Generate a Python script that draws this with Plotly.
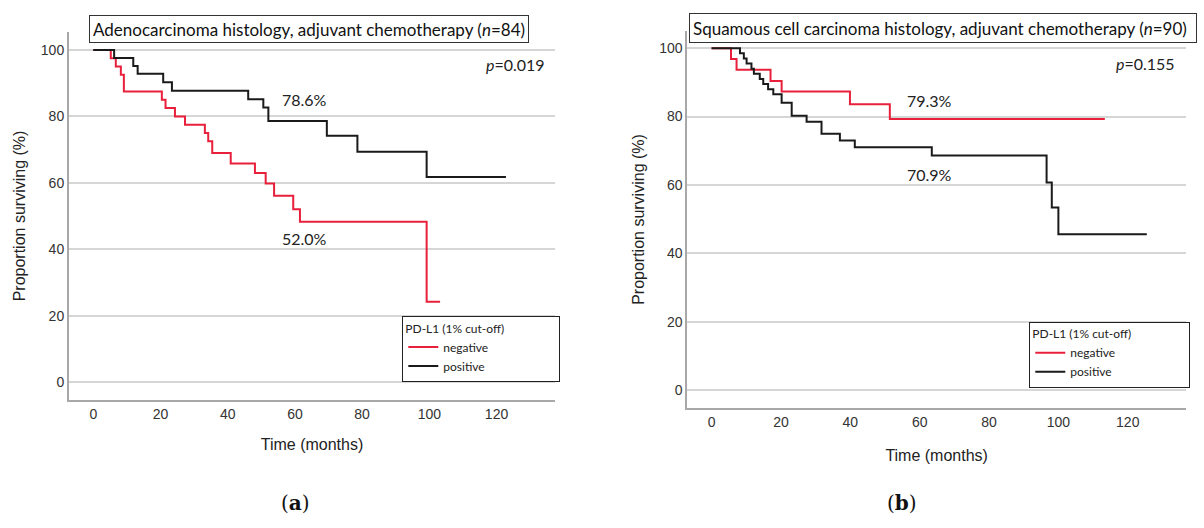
import plotly.graph_objects as go

# ---------------- data ----------------
# Panel (a): Adenocarcinoma histology
a_neg_time = [0, 5.2, 6.7, 8.2, 9.1, 20.4, 21.5, 24.3, 27.3, 33.2, 34.2, 35.4, 40.9, 48.1, 51.3, 53.8, 59.5, 61.5, 99.2, 103.2]
a_neg_surv = [100, 97.5, 95.0, 92.5, 87.5, 85.0, 82.5, 80.0, 77.5, 75.0, 72.5, 69.0, 65.8, 63.0, 59.8, 56.1, 52.1, 48.3, 24.2, 24.2]
a_pos_time = [0, 6.2, 11.9, 13.2, 20.8, 23.4, 46.1, 50.6, 52.1, 69.5, 78.6, 99.2, 122.8]
a_pos_surv = [100, 97.6, 95.2, 92.8, 90.3, 87.7, 85.2, 82.7, 78.6, 74.2, 69.4, 61.8, 61.8]

# Panel (b): Squamous cell carcinoma histology
b_neg_time = [0, 5.6, 7.2, 17.0, 20.2, 39.9, 51.4, 113.4]
b_neg_surv = [100, 96.8, 93.7, 90.4, 87.3, 83.6, 79.3, 79.3]
b_pos_time = [0, 8.2, 9.3, 10.1, 11.5, 12.2, 13.9, 14.9, 16.3, 17.8, 20.2, 23.1, 27.4, 31.7, 37.0, 41.3, 63.5, 96.6, 98.1, 100.0, 125.5]
b_pos_surv = [100, 98.5, 97.0, 95.5, 94.0, 92.5, 91.0, 89.5, 88.0, 86.5, 84.0, 80.2, 78.5, 75.0, 73.0, 71.0, 68.6, 60.7, 53.4, 45.6, 45.6]

x_ticks = [0, 20, 40, 60, 80, 100, 120]
y_ticks = [0, 20, 40, 60, 80, 100]
group_names = ["negative", "positive"]
titles = ["Adenocarcinoma histology, adjuvant chemotherapy (<i>n</i>=84)",
          "Squamous cell carcinoma histology, adjuvant chemotherapy (<i>n</i>=90)"]
p_values = ["<i>p</i>=0.019", "<i>p</i>=0.155"]
rate_labels_a = ["78.6%", "52.0%"]
rate_labels_b = ["79.3%", "70.9%"]

RED = "#e8203c"
BLACK = "#1a1a1a"
W, H = 1204, 528
TXT = "Lato"
AX = "Liberation Sans"

fig = go.Figure()
fig.add_trace(go.Scatter(x=a_neg_time, y=a_neg_surv, mode="lines", line=dict(shape="hv", color=RED, width=2),
                         name=group_names[0], xaxis="x", yaxis="y", legend="legend"))
fig.add_trace(go.Scatter(x=a_pos_time, y=a_pos_surv, mode="lines", line=dict(shape="hv", color=BLACK, width=2),
                         name=group_names[1], xaxis="x", yaxis="y", legend="legend"))
fig.add_trace(go.Scatter(x=b_neg_time, y=b_neg_surv, mode="lines", line=dict(shape="hv", color=RED, width=2),
                         name=group_names[0], xaxis="x2", yaxis="y2", legend="legend2"))
fig.add_trace(go.Scatter(x=b_pos_time, y=b_pos_surv, mode="lines", line=dict(shape="hv", color=BLACK, width=2),
                         name=group_names[1], xaxis="x2", yaxis="y2", legend="legend2"))


def xax(domain, rng, anchor, standoff):
    return dict(domain=domain, range=rng, anchor=anchor, tickvals=x_ticks, showgrid=False, zeroline=False,
                showline=True, linecolor="#a8a8a8", linewidth=2, ticks="",
                tickfont=dict(family=AX, size=14, color="#333"),
                title=dict(text="Time (months)", font=dict(family=AX, size=16, color="#222"), standoff=standoff))


def yax(domain, rng, anchor):
    return dict(domain=domain, range=rng, anchor=anchor, tickvals=y_ticks, showgrid=True, gridcolor="#d6d6d6",
                gridwidth=1.5, zeroline=False, showline=True, linecolor="#a8a8a8", linewidth=2, ticks="",
                tickfont=dict(family=AX, size=14, color="#333"),
                title=dict(text="Proportion surviving (%)", font=dict(family=AX, size=16, color="#222"), standoff=11))


def legend_cfg(x, y, pad):
    return dict(x=x, y=y, xanchor="left", yanchor="top", bgcolor="white", bordercolor="#222", borderwidth=1,
                font=dict(family=TXT, size=12, color="#222"), itemwidth=30, tracegroupgap=0,
                title=dict(text="PD-L1 (1% cut-off)" + "\u00a0" * pad,
                           font=dict(family=TXT, size=12, color="#222")))


fig.update_layout(
    width=W, height=H, margin=dict(l=0, r=0, t=0, b=0), autosize=False,
    paper_bgcolor="white", plot_bgcolor="white",
    xaxis=xax([69 / W, 555 / W], [-7.23, 137.4], "y", 18),
    yaxis=yax([(H - 400) / H, (H - 32) / H], [-5.33, 105.4], "x"),
    xaxis2=xax([687.3 / W, 1186 / W], [-7.0, 136.8], "y2", 21),
    yaxis2=yax([(H - 408.3) / H, (H - 30.7) / H], [-5.3, 105.1], "x2"),
    legend=legend_cfg(402.3 / W, (H - 316) / H, 17),
    legend2=legend_cfg(1029.3 / W, (H - 321.7) / H, 18),
)

ann = []
# Title boxes
ann.append(dict(text=titles[0], xref="paper", yref="paper", x=89.3 / W, y=(H - 15) / H, xanchor="left",
                yanchor="top", showarrow=False, font=dict(family=TXT, size=17, color="#111"), align="left",
                bordercolor="#333", borderwidth=1, borderpad=3, bgcolor="white", width=432, height=20))
ann.append(dict(text=titles[1], xref="paper", yref="paper", x=689.3 / W, y=(H - 12.7) / H, xanchor="left",
                yanchor="top", showarrow=False, font=dict(family=TXT, size=17, color="#111"), align="left",
                bordercolor="#333", borderwidth=1, borderpad=3, bgcolor="white", width=500, height=22))
# p values
ann.append(dict(text=p_values[0], xref="x", yref="y", x=134.9, y=95.7, xanchor="right", yanchor="middle",
                showarrow=False, font=dict(family=TXT, size=16, color="#222")))
ann.append(dict(text=p_values[1], xref="x2", yref="y2", x=134.1, y=95.6, xanchor="right", yanchor="middle",
                showarrow=False, font=dict(family=TXT, size=16, color="#222")))
# survival-rate labels
ann.append(dict(text=rate_labels_a[0], xref="x", yref="y", x=63.0, y=85.0, showarrow=False,
                font=dict(family=TXT, size=16, color="#222")))
ann.append(dict(text=rate_labels_a[1], xref="x", yref="y", x=63.0, y=43.3, showarrow=False,
                font=dict(family=TXT, size=16, color="#222")))
ann.append(dict(text=rate_labels_b[0], xref="x2", yref="y2", x=62.7, y=84.6, showarrow=False,
                font=dict(family=TXT, size=16, color="#222")))
ann.append(dict(text=rate_labels_b[1], xref="x2", yref="y2", x=62.7, y=63.2, showarrow=False,
                font=dict(family=TXT, size=16, color="#222")))
# panel letters
ann.append(dict(text="(<b>a</b>)", xref="paper", yref="paper", x=279 / W, y=(H - 517) / H, showarrow=False,
                font=dict(family="DejaVu Serif", size=20, color="#111")))
ann.append(dict(text="(<b>b</b>)", xref="paper", yref="paper", x=919 / W, y=(H - 517) / H, showarrow=False,
                font=dict(family="DejaVu Serif", size=20, color="#111")))
fig.update_layout(annotations=ann)

fig.write_html("out.html")
